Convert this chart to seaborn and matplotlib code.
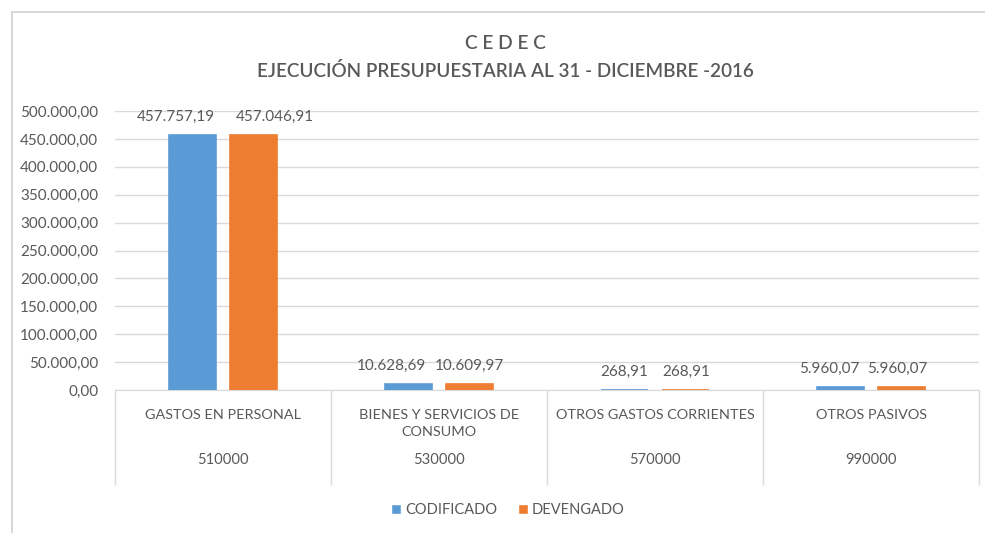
import matplotlib
matplotlib.use("Agg")
import matplotlib.pyplot as plt
from matplotlib.lines import Line2D
import seaborn as sns
import pandas as pd

categories = ["GASTOS EN PERSONAL", "BIENES Y SERVICIOS DE\nCONSUMO",
              "OTROS GASTOS CORRIENTES", "OTROS PASIVOS"]
codes = ["510000", "530000", "570000", "990000"]
codificado = [457757.19, 10628.69, 268.91, 5960.07]
devengado = [457046.91, 10609.97, 268.91, 5960.07]
series = ["CODIFICADO", "DEVENGADO"]
colors = ["#5B9BD5", "#ED7D31"]
yticks = [0, 50000, 100000, 150000, 200000, 250000, 300000, 350000, 400000, 450000, 500000]

# horizontal nudges (px) of the data labels, as in the original chart
label_shift = [[-16, -17, 0, -11], [21, 0, 0, -4]]

TXT = "#595959"
GRID = "#D9D9D9"


def fmt_es(v):
    s = f"{v:,.2f}"
    return s.replace(",", "X").replace(".", ",").replace("X", ".")


df = pd.DataFrame({
    "cat": categories * 2,
    "serie": [series[0]] * 4 + [series[1]] * 4,
    "valor": codificado + devengado,
})

sns.set_style("white")
plt.rcParams["font.family"] = ["Lato", "DejaVu Sans"]

fig = plt.figure(figsize=(9.85, 5.33), dpi=100)
ax = fig.add_axes([115 / 985, (533 - 390) / 533, 864 / 985, 279 / 533])

sns.barplot(data=df, x="cat", y="valor", hue="serie", palette=colors,
            width=0.57, gap=0.23, saturation=1, ax=ax, legend=True)
# thin edge in the bar colour so tiny values stay visible, like Excel
for cont in ax.containers:
    for bar in cont:
        bar.set_edgecolor(bar.get_facecolor())
        bar.set_linewidth(1.2)

ax.set_xlim(-0.5, 3.5)
ax.set_ylim(0, 500000)
ax.set_yticks(yticks)
ax.set_yticklabels([fmt_es(t) for t in yticks], fontsize=11, color=TXT)
ax.tick_params(axis="y", length=0, pad=12)
ax.set_xticks([])
ax.set_xlabel("")
ax.set_ylabel("")
ax.yaxis.grid(True, color=GRID, linewidth=1)
ax.set_axisbelow(True)
for s in ["top", "right", "left"]:
    ax.spines[s].set_visible(False)
ax.spines["bottom"].set_color(GRID)
ax.spines["bottom"].set_zorder(0.4)

# data labels
for k, cont in enumerate(ax.containers):
    for i, bar in enumerate(cont):
        h = bar.get_height()
        ax.annotate(fmt_es(h), (bar.get_x() + bar.get_width() / 2, h),
                    xytext=(label_shift[k][i] * 0.72, 8), textcoords="offset points",
                    ha="center", va="bottom", fontsize=11, color=TXT)

# two-level category axis
trans = ax.get_xaxis_transform()
ax.vlines([i - 0.5 for i in range(len(categories) + 1)], -0.34, 0,
          transform=trans, colors=GRID, linewidth=1, clip_on=False)
for i, (c, code) in enumerate(zip(categories, codes)):
    ax.text(i, -0.067, c, transform=trans, ha="center", va="top",
            fontsize=10.4, color=TXT, linespacing=1.55)
    ax.text(i, -0.25, code, transform=trans, ha="center", va="center",
            fontsize=10.6, color=TXT)

# legend
handles, labels = ax.get_legend_handles_labels()
ax.get_legend().remove()
fig.legend(handles, labels, loc="center", bbox_to_anchor=(508 / 985, 1 - 510 / 533),
           ncol=2, frameon=False, fontsize=10.5, labelcolor=TXT,
           handlelength=0.7, handleheight=0.7, handletextpad=0.25, columnspacing=1.45)

# titles
fig.text(505 / 985, 1 - 43 / 533, "C E D E C", ha="center", va="center",
         fontsize=13.8, color=TXT, fontweight="semibold")
fig.text(505 / 985, 1 - 71 / 533, "EJECUCIÓN PRESUPUESTARIA AL 31 - DICIEMBRE -2016",
         ha="center", va="center", fontsize=13.6, color=TXT, fontweight="semibold")

# outer chart frame
fig.add_artist(Line2D([12 / 985, 12 / 985], [0, 1 - 12 / 533], color="#D0D0D0", linewidth=1.2))
fig.add_artist(Line2D([12 / 985, 1], [1 - 12 / 533, 1 - 12 / 533], color="#D0D0D0", linewidth=1.2))

fig.savefig("out.png", dpi=100, facecolor="white")
